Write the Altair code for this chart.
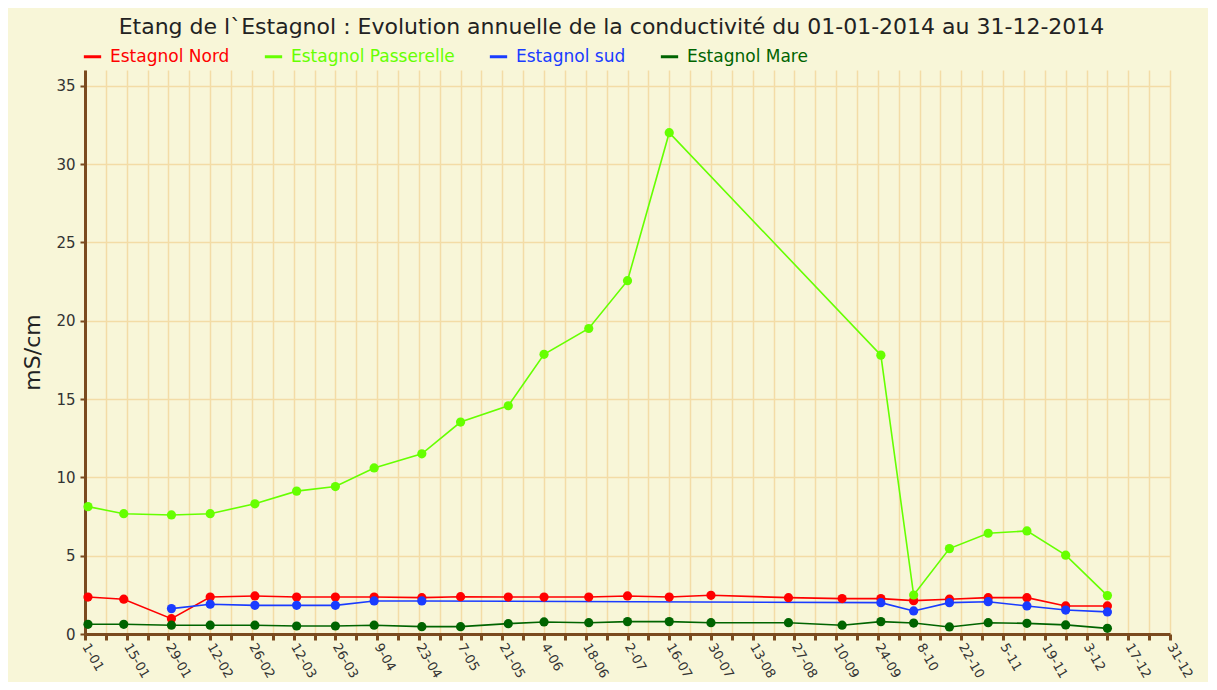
import altair as alt
import pandas as pd

# Sampling dates (2014)
dates = ["2014-01-02", "2014-01-14", "2014-01-30", "2014-02-12", "2014-02-27",
         "2014-03-13", "2014-03-26", "2014-04-08", "2014-04-24", "2014-05-07",
         "2014-05-23", "2014-06-04", "2014-06-19", "2014-07-02", "2014-07-16",
         "2014-07-30", "2014-08-25", "2014-09-12", "2014-09-25", "2014-10-06",
         "2014-10-18", "2014-10-31", "2014-11-13", "2014-11-26", "2014-12-10"]

series_names = ["Estagnol Nord", "Estagnol Passerelle", "Estagnol sud", "Estagnol Mare"]
series_colors = ["#FF0000", "#66FF00", "#1A3CFF", "#006400"]

nord = [2.36, 2.22, 0.98, 2.36, 2.43, 2.36, 2.36, 2.36, 2.32, 2.38,
        2.36, 2.36, 2.36, 2.43, 2.36, 2.47, 2.32, 2.26, 2.26, 2.13,
        2.22, 2.32, 2.32, 1.79, 1.79]
passerelle = [8.13, 7.68, 7.60, 7.68, 8.31, 9.12, 9.41, 10.6, 11.5, 13.53,
              14.57, 17.85, 19.5, 22.55, 32.0, None, None, None, 17.8, 2.49,
              5.45, 6.43, 6.58, 5.03, 2.45]
sud = [None, None, 1.62, 1.90, 1.83, 1.83, 1.83, 2.11, 2.11, None,
       None, None, None, None, None, None, None, None, 2.0, 1.47,
       2.0, 2.06, 1.79, 1.53, 1.41]
mare = [0.62, 0.62, 0.56, 0.56, 0.56, 0.51, 0.51, 0.56, 0.47, 0.47,
        0.66, 0.77, 0.72, 0.79, 0.79, 0.72, 0.72, 0.56, 0.79, 0.70,
        0.45, 0.72, 0.68, 0.58, 0.36]

y_ticks = [0, 5, 10, 15, 20, 25, 30, 35]
x_tick_days = list(range(0, 365, 7))  # weekly ticks, labelled every two weeks

rows = []
for name, vals in zip(series_names, [nord, passerelle, sud, mare]):
    for d, v in zip(dates, vals):
        if v is not None:
            rows.append({"date": d, "serie": name, "value": v})
df = pd.DataFrame(rows)
df["day"] = pd.to_datetime(df["date"]).dt.dayofyear - 1

FONT = "DejaVu Sans"
BROWN = "#7A4A1F"
GRID = "#F3DCA6"
BG = "#F8F6D8"

label_color_expr = (
    "datum.label == 'Estagnol Nord' ? '#FF0000' : "
    "datum.label == 'Estagnol Passerelle' ? '#66FF00' : "
    "datum.label == 'Estagnol sud' ? '#1A3CFF' : '#006400'"
)

x_enc = alt.X(
    "day:Q",
    scale=alt.Scale(domain=[0, 364], nice=False, zero=False),
    axis=alt.Axis(
        values=x_tick_days,
        labelExpr="datum.value % 14 == 0 ? timeFormat(datetime(2014, 0, 1 + datum.value), '%-d-%m') : ''",
        labelAngle=60, labelFont=FONT, labelFontSize=13, labelColor="#333333",
        labelPadding=4, labelOverlap=False,
        tickColor=BROWN, tickWidth=3, tickSize=6,
        domainColor=BROWN, domainWidth=3,
        gridColor=GRID, gridWidth=1.5, title=None,
    ),
)
y_enc = alt.Y(
    "value:Q",
    scale=alt.Scale(domain=[0, 36], nice=False),
    axis=alt.Axis(
        values=y_ticks, labelFont=FONT, labelFontSize=15, labelColor="#333333",
        labelPadding=5, tickColor=BROWN, tickWidth=2, tickSize=5,
        domainColor=BROWN, domainWidth=3, gridColor=GRID, gridWidth=1.5,
        title="mS/cm", titleFont=FONT, titleFontSize=22, titleFontWeight="normal",
        titleColor="#222222", titlePadding=11,
    ),
)
color_scale = alt.Scale(domain=series_names, range=series_colors)

line = alt.Chart(df).mark_line(strokeWidth=1.6).encode(
    x=x_enc, y=y_enc,
    color=alt.Color(
        "serie:N", scale=color_scale, sort=series_names,
        legend=alt.Legend(
            title=None, orient="none", direction="horizontal",
            legendX=-3, legendY=-24, symbolType="stroke", symbolStrokeWidth=3,
            symbolSize=300, labelFont=FONT, labelFontSize=17, labelLimit=400,
            labelColor=alt.ExprRef(label_color_expr), columnPadding=28,
            labelOffset=7, padding=0,
        ),
    ),
)
points = alt.Chart(df).mark_circle(size=85, opacity=1).encode(
    x=x_enc, y=y_enc,
    color=alt.Color("serie:N", scale=color_scale, sort=series_names, legend=None),
)

chart = alt.layer(line, points).properties(
    width=1085, height=564,
    title=alt.TitleParams(
        "Etang de l`Estagnol : Evolution annuelle de la conductivité du 01-01-2014 au 31-12-2014",
        font=FONT, fontSize=22, fontWeight="normal", color="#222222",
        anchor="middle", dx=-16, offset=7,
    ),
    autosize=alt.AutoSizeParams(type="none"),
    padding={"left": 77, "top": 62, "right": 38, "bottom": 48},
).configure(background=BG).configure_view(stroke=None, fill=BG)

chart.save("out.html", embed_options={"renderer": "svg", "actions": False})
